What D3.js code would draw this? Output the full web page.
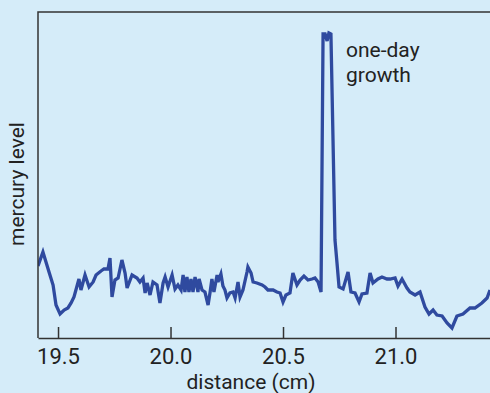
<!DOCTYPE html>
<html>
<head>
<meta charset="utf-8">
<script src="https://cdn.jsdelivr.net/npm/d3@7"></script>
<style>
  body { margin: 0; background: #d5ecf9; }
  svg { display: block; font-family: Roboto, "Liberation Sans", sans-serif; }
</style>
</head>
<body>
<svg></svg>
<script>
// distance along the sample (cm)
const distance = [
  19.411, 19.433, 19.460, 19.478, 19.491, 19.509, 19.527, 19.544, 19.558, 19.571,
  19.593, 19.602, 19.620, 19.638, 19.656, 19.669, 19.691, 19.704, 19.722, 19.731,
  19.740, 19.753, 19.767, 19.784, 19.798, 19.807, 19.829, 19.851, 19.864, 19.878,
  19.887, 19.896, 19.909, 19.922, 19.940, 19.953, 19.967, 19.976, 19.989, 20.007,
  20.020, 20.033, 20.047, 20.056, 20.064, 20.073, 20.082, 20.091, 20.100, 20.109,
  20.122, 20.127, 20.140, 20.153, 20.167, 20.176, 20.184, 20.193, 20.207, 20.211,
  20.224, 20.233, 20.242, 20.251, 20.264, 20.278, 20.287, 20.300, 20.309, 20.322,
  20.340, 20.344, 20.358, 20.367, 20.384, 20.407, 20.420, 20.433, 20.456, 20.473,
  20.487, 20.500, 20.513, 20.531, 20.544, 20.562, 20.576, 20.593, 20.611, 20.629,
  20.642, 20.656, 20.669, 20.678, 20.687, 20.696, 20.704, 20.713, 20.731, 20.740,
  20.749, 20.767, 20.789, 20.802, 20.820, 20.838, 20.851, 20.873, 20.887, 20.900,
  20.922, 20.940, 20.962, 20.976, 20.998, 21.011, 21.029, 21.051, 21.064, 21.087,
  21.109, 21.131, 21.149, 21.167, 21.184, 21.207, 21.229, 21.251, 21.273, 21.300,
  21.331, 21.353, 21.384, 21.407, 21.420
]

// mercury level, arbitrary units
const mercury = [
  72, 86, 66, 53, 33, 24, 28, 30, 35, 41,
  59, 48, 63, 51, 56, 63, 67, 69, 69, 80,
  41, 58, 60, 78, 65, 50, 63, 60, 56, 60,
  45, 55, 43, 56, 53, 35, 55, 61, 51, 63,
  49, 53, 48, 63, 46, 61, 46, 59, 46, 61,
  46, 59, 48, 46, 33, 46, 59, 46, 63, 56,
  64, 52, 48, 40, 45, 46, 40, 56, 41, 48,
  66, 71, 65, 56, 55, 53, 51, 48, 48, 46,
  45, 36, 43, 45, 65, 53, 58, 62, 58, 59,
  60, 56, 46, 304, 304, 297, 305, 304, 98, 75,
  51, 49, 66, 46, 45, 36, 44, 45, 65, 55,
  59, 61, 59, 59, 60, 52, 59, 50, 46, 43,
  46, 31, 24, 28, 23, 22, 15, 10, 22, 24,
  30, 30, 35, 40, 48
]

const xTicks = [19.5, 20.0, 20.5, 21.0]
const noteLines = ["one-day", "growth"]

let width = 490, height = 393
let margin = {top: 12, right: 0, bottom: 55, left: 38}

let svg = d3.select('svg')
    .attr('width', width)
    .attr('height', height)

let x = d3.scaleLinear()
    .domain([19.411, 21.42])
    .range([margin.left, width - margin.right])

let y = d3.scaleLinear()
    .domain([0, 326])
    .range([height - margin.bottom, margin.top])

svg.append('clipPath')
    .attr('id', 'plot')
    .append('rect')
    .attr('x', margin.left)
    .attr('y', margin.top)
    .attr('width', width - margin.left)
    .attr('height', height - margin.bottom - margin.top)

let line = d3.line()
    .x(function(d, i){ return x(distance[i]) })
    .y(function(d){ return y(d) })

svg.append('path')
    .datum(mercury)
    .attr('clip-path', 'url(#plot)')
    .attr('d', line)
    .attr('fill', 'none')
    .attr('stroke', '#2f4a9f')
    .attr('stroke-width', 3.3)
    .attr('stroke-linejoin', 'miter')

// frame: left and top edges
svg.append('path')
    .attr('d', 'M' + margin.left + ',' + y(0) + 'V' + margin.top + 'H' + (width + 2))
    .attr('fill', 'none')
    .attr('stroke', '#333')
    .attr('stroke-width', 1.5)

let xAxis = d3.axisBottom(x)
    .tickValues(xTicks)
    .tickFormat(d3.format('.1f'))
    .tickSizeInner(-11)
    .tickSizeOuter(0)
    .tickPadding(10.4)

let gx = svg.append('g')
    .attr('transform', 'translate(0,' + y(0) + ')')
    .call(xAxis)

gx.select('.domain')
    .attr('stroke', '#333')
    .attr('stroke-width', 1.5)
gx.selectAll('.tick line')
    .attr('stroke', '#333')
    .attr('stroke-width', 1.5)
gx.selectAll('.tick text')
    .attr('font-size', 22)
    .attr('font-family', 'Roboto, sans-serif')
    .attr('fill', '#222')

svg.append('text')
    .attr('x', 251)
    .attr('y', 389)
    .attr('text-anchor', 'middle')
    .attr('font-size', 21)
    .attr('fill', '#222')
    .text('distance (cm)')

svg.append('text')
    .attr('transform', 'translate(24,184) rotate(-90)')
    .attr('text-anchor', 'middle')
    .attr('font-size', 21)
    .attr('fill', '#222')
    .text('mercury level')

svg.append('text')
    .attr('font-size', 21)
    .attr('fill', '#222')
    .selectAll('tspan')
    .data(noteLines)
    .enter()
    .append('tspan')
    .attr('x', 346)
    .attr('y', function(d, i){ return 57 + i * 25 })
    .text(function(d){ return d })
</script>
</body>
</html>
